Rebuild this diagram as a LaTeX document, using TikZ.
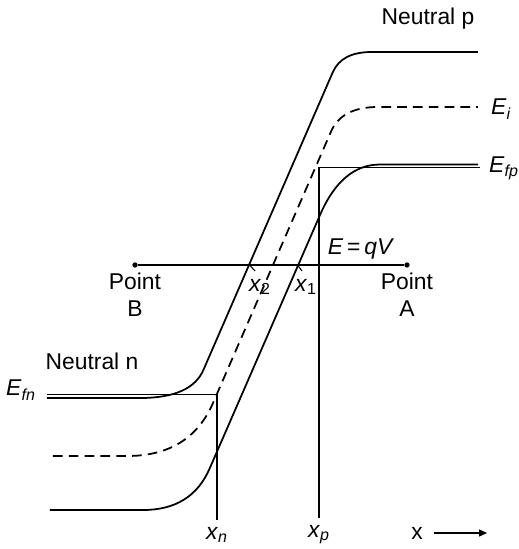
\documentclass[tikz,border=0pt]{standalone}
\usepackage{fontspec}
\setmainfont{Liberation Sans}
\usepackage{tikz}
\usetikzlibrary{positioning,arrows.meta}

\newcommand{\lvl}[2]{\textit{#1}\textsubscript{\itshape #2}}

\begin{document}
\begin{tikzpicture}[
      x=0.02cm, y=-0.02cm,
      band/.style={line width=1pt},
      midgap/.style={band, dash pattern=on 5.5pt off 3.5pt},
      level/.style={line width=0.6pt},
      lbl/.style={inner sep=0pt, font=\fontsize{13}{15.6}\selectfont, align=center},
      dot/.style={circle, fill, inner sep=0pt, minimum size=3pt},
      arr/.style={-{Triangle[length=4.5pt,width=4pt]}, line width=0.6pt},
    ]
    \useasboundingbox (0,0) rectangle (519,549);

    % bands
    \draw[band] (47,398) -- (140,398) .. controls (174.4,398) and (195.6,388.5) .. (203.6,369.5)
      -- (332.8,72.2) .. controls (338.7,58.7) and (351.6,52) .. (371.6,52) -- (478,52);
    \draw[midgap] (53,456) -- (127,456) .. controls (169,456) and (197.7,438.3) .. (213,403)
      -- (331,131.6) .. controls (338.1,115.2) and (353.8,107) .. (378,107) -- (478,107);
    \draw[band] (50,510) -- (143,510) .. controls (175.4,510) and (197.6,496.2) .. (209.6,468.6)
      -- (320,215) .. controls (334.4,181.7) and (354.4,164.5) .. (380,164.5) -- (478,164.5);

    % labels
    \node[lbl] (np) at (428,19) {Neutral p};
    \node[lbl] (nn) at (92,361) {Neutral n};
    \node[lbl] (efn) at (21,390) {\lvl{E}{fn}};
    \node[lbl] (ei) at (501,109) {\lvl{E}{i}};
    \node[lbl] (efp) at (504,168) {\lvl{E}{fp}};
    \node[lbl] (eqv) at (361,249) {\textit{E}\,=\,\textit{qV}};
    \node[lbl] (ptb) at (135,295) {Point\\B};
    \node[lbl] (pta) at (407,295) {Point\\A};
    \node[lbl] (x2) at (260,287) {\textit{x}\textsubscript{2}};
    \node[lbl] (x1) at (306,287) {\textit{x}\textsubscript{1}};
    \node[lbl, inner ysep=4pt] (xn) at (217,535) {\lvl{x}{n}};
    \node[lbl, inner ysep=4pt] (xp) at (319,535) {\lvl{x}{p}};
    \node[lbl, inner xsep=6pt] (xax) at (417,533) {x};

    % points and levels
    \node[dot] (b) at (135,265) {};
    \node[dot] (a) at (407,265) {};
    \coordinate (fn0) at (47,394.5);
    \coordinate (fn) at (217,394.5);
    \coordinate (fp) at (319,167.5);
    \coordinate (fp1) at (480,167.5);
    \coordinate (c2) at (249.5,265);
    \coordinate (t2) at (255,271);
    \coordinate (c1) at (297.5,265);
    \coordinate (t1) at (302,271);
    \coordinate (xend) at (487,533);

    \draw[level] (b) -- (a);
    \draw[level] (fn0) -- (fn) -- (xn.north);
    \draw[level] (fp1) -- (fp) -- (xp.north);
    \draw[level] (c2) -- (t2);
    \draw[level] (c1) -- (t1);
    \draw[arr] (xax) -- (xend);
  \end{tikzpicture}
\end{document}
